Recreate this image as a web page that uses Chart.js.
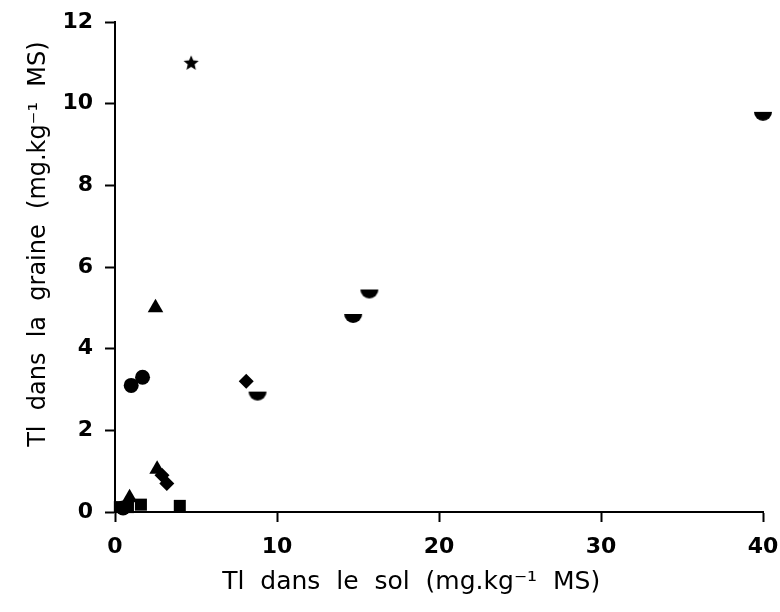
<!DOCTYPE html>
<html>
<head>
<meta charset="utf-8">
<script src="https://cdn.jsdelivr.net/npm/chart.js@4"></script>
<style>
  html,body{margin:0;padding:0;background:#fff;}
  #wrap{width:780px;height:612px;}
</style>
</head>
<body>
<div id="wrap"><canvas id="c" width="780" height="612"></canvas></div>
<script>
// values: soil Tl (x) vs seed Tl (y), one list per marker type
const circleX = [1.0, 1.7, 0.5];
const circleY = [3.1, 3.3, 0.1];
const squareX = [0.3, 0.8, 1.6, 4.0];
const squareY = [0.12, 0.12, 0.18, 0.15];
const triangleX = [2.5, 0.9, 2.6];
const triangleY = [5.0, 0.35, 1.05];
const diamondX = [8.1, 2.9, 3.2];
const diamondY = [3.2, 0.9, 0.7];
const starX = [4.7];
const starY = [11.0];
const halfX = [40.0, 15.7, 14.7, 8.8];
const halfY = [9.75, 5.4, 4.8, 2.9];

const xTicks = [0, 10, 20, 30, 40];
const yTicks = [0, 2, 4, 6, 8, 10, 12];

function pts(xs, ys){ return xs.map((x,i)=>({x:x, y:ys[i]})); }

// little canvases for the marker shapes chart.js doesn't have filled
function halfDisc(){
  const c = document.createElement('canvas'); c.width = 20; c.height = 20;
  const g = c.getContext('2d');
  g.fillStyle = '#000';
  g.beginPath(); g.moveTo(1,8); g.lineTo(19,8); g.arc(10,8,9,0,Math.PI); g.closePath(); g.fill();
  return c;
}
function filledStar(){
  const c = document.createElement('canvas'); c.width = 18; c.height = 18;
  const g = c.getContext('2d');
  g.fillStyle = '#000'; g.beginPath();
  for(let i=0;i<10;i++){
    const r = i%2 ? 3.6 : 8;
    const a = -Math.PI/2 + i*Math.PI/5;
    g.lineTo(9 + r*Math.cos(a), 9.5 + r*Math.sin(a));
  }
  g.closePath(); g.fill();
  return c;
}

const base = { backgroundColor:'#000', borderColor:'#000', borderWidth:0, clip:false };
const font = 'DejaVu Sans, Liberation Sans, sans-serif';

new Chart(document.getElementById('c').getContext('2d'), {
  type: 'scatter',
  data: { datasets: [
    Object.assign({ data: pts(circleX, circleY), pointStyle:'circle', pointRadius:7.5 }, base),
    Object.assign({ data: pts(squareX, squareY), pointStyle:'rect', pointRadius:8.5 }, base),
    Object.assign({ data: pts(triangleX, triangleY), pointStyle:'triangle', pointRadius:9 }, base),
    Object.assign({ data: pts(diamondX, diamondY), pointStyle:'rectRot', pointRadius:7.5 }, base),
    Object.assign({ data: pts(starX, starY), pointStyle: filledStar() }, base),
    Object.assign({ data: pts(halfX, halfY), pointStyle: halfDisc() }, base)
  ]},
  options: {
    responsive:false, animation:false,
    layout:{ padding:{ top:22, right:17, left:0, bottom:0 } },
    plugins:{ legend:{display:false}, tooltip:{enabled:false} },
    scales:{
      x:{
        type:'linear', min:0, max:40,
        afterBuildTicks: s => { s.ticks = xTicks.map(v=>({value:v})); },
        // fixed box; no extra room for the half-overflowing end labels
        afterFit: s => { s.height = 100; s.paddingLeft = 0; s.paddingRight = 0; },
        grid:{ drawOnChartArea:false, color:'#000', tickLength:10, tickWidth:2 },
        border:{ color:'#000', width:2 },
        ticks:{ color:'#000', font:{ family:font, size:22, weight:'bold' }, padding:12, maxRotation:0 },
        title:{ display:true, text:'Tl  dans  le  sol  (mg.kg⁻¹  MS)       ', color:'#000',
                font:{ family:font, size:25 }, padding:{ top:0, bottom:15 } }
      },
      y:{
        type:'linear', min:0, max:12,
        afterBuildTicks: s => { s.ticks = yTicks.map(v=>({value:v})); },
        afterFit: s => { s.width = 115; s.paddingTop = 0; s.paddingBottom = 0; },
        grid:{ drawOnChartArea:false, color:'#000', tickLength:10, tickWidth:2 },
        border:{ color:'#000', width:2 },
        ticks:{ color:'#000', font:{ family:font, size:22, weight:'bold' }, padding:12 },
        title:{ display:true, text:'      Tl  dans  la  graine  (mg.kg⁻¹  MS)', color:'#000',
                font:{ family:font, size:24 }, padding:{ top:24, bottom:0 } }
      }
    }
  }
});
</script>
</body>
</html>
